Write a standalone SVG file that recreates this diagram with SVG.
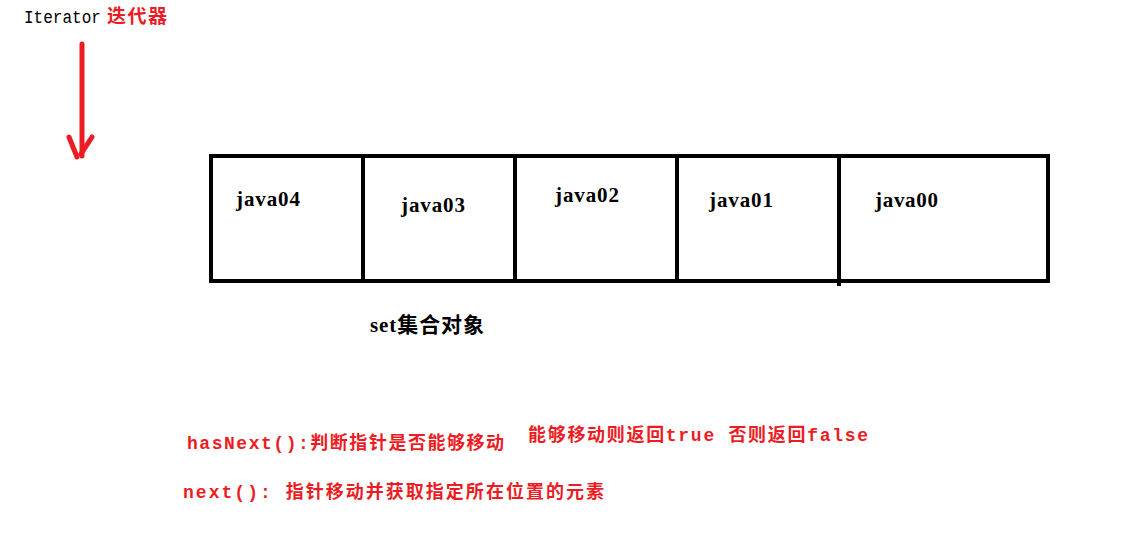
<svg xmlns="http://www.w3.org/2000/svg" width="1141" height="544" viewBox="0 0 1141 544">
<style>
.cell{fill:none;stroke:#000;stroke-width:4}
.lbl{font-family:"Liberation Serif","Noto Sans CJK SC",serif;font-weight:bold;font-size:21px;fill:#000}
.red{font-family:"Liberation Mono","Noto Sans CJK SC",monospace;font-size:18px;fill:#ec1c24;font-weight:bold}
.arrow{stroke:#ec1c24;stroke-width:5;stroke-linecap:round;fill:none}
</style>
<rect width="1141" height="544" fill="#fff"/>
<g id="title">
<text x="24" y="23" font-family="Liberation Mono, monospace" font-size="18" fill="#000" textLength="77" lengthAdjust="spacingAndGlyphs">Iterator</text>
<text x="107" y="23" font-family="Noto Sans CJK SC, sans-serif" font-size="19" font-weight="bold" fill="#ec1c24" textLength="60">迭代器</text>
</g>
<g id="connectors">
<path class="arrow" d="M82,44 L82,156"/>
<path class="arrow" d="M69,137 L77,157 M92,137 L81,154"/>
</g>
<g id="set">
<rect class="cell" x="211" y="156" width="837" height="125"/>
<line class="cell" x1="363" y1="156" x2="363" y2="281"/>
<line class="cell" x1="515" y1="156" x2="515" y2="281"/>
<line class="cell" x1="677" y1="156" x2="677" y2="281"/>
<line class="cell" x1="839" y1="156" x2="839" y2="286"/>
</g>
<g id="java04"><text class="lbl" x="236" y="206" textLength="64">java04</text></g>
<g id="java03"><text class="lbl" x="401" y="212" textLength="64">java03</text></g>
<g id="java02"><text class="lbl" x="555" y="202" textLength="64">java02</text></g>
<g id="java01"><text class="lbl" x="709" y="207" textLength="64">java01</text></g>
<g id="java00"><text class="lbl" x="875" y="207" textLength="63">java00</text></g>
<g id="set-label"><text class="lbl" x="370" y="332" font-size="19" textLength="114">set集合对象</text></g>
<g id="notes">
<text class="red" x="187" y="449" textLength="317">hasNext():判断指针是否能够移动</text>
<text class="red" x="528" y="441" textLength="340">能够移动则返回true 否则返回false</text>
<text class="red" x="183" y="498" textLength="421">next(): 指针移动并获取指定所在位置的元素</text>
</g>
</svg>
